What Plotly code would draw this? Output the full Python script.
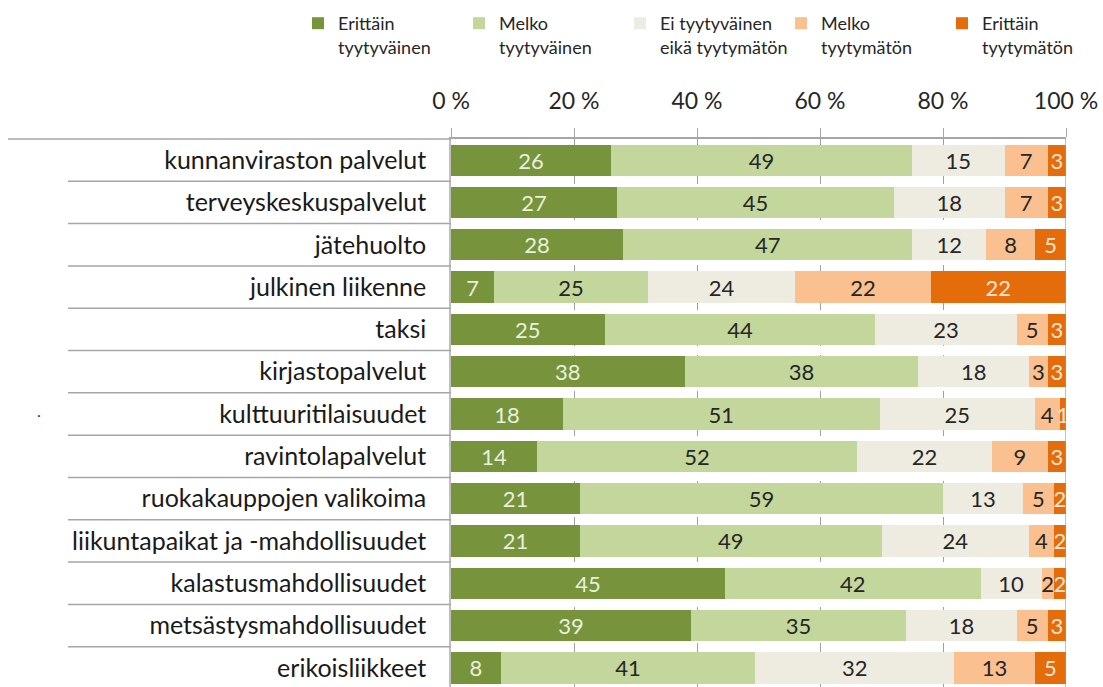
import plotly.graph_objects as go

# Satisfaction with municipal and local services (% of respondents)
categories = [
    "kunnanviraston palvelut",
    "terveyskeskuspalvelut",
    "jätehuolto",
    "julkinen liikenne",
    "taksi",
    "kirjastopalvelut",
    "kulttuuritilaisuudet",
    "ravintolapalvelut",
    "ruokakauppojen valikoima",
    "liikuntapaikat ja -mahdollisuudet",
    "kalastusmahdollisuudet",
    "metsästysmahdollisuudet",
    "erikoisliikkeet",
]

very_satisfied = [26, 27, 28, 7, 25, 38, 18, 14, 21, 21, 45, 39, 8]
fairly_satisfied = [49, 45, 47, 25, 44, 38, 51, 52, 59, 49, 42, 35, 41]
neutral = [15, 18, 12, 24, 23, 18, 25, 22, 13, 24, 10, 18, 32]
fairly_dissatisfied = [7, 7, 8, 22, 5, 3, 4, 9, 5, 4, 2, 5, 13]
very_dissatisfied = [3, 3, 5, 22, 3, 3, 1, 3, 2, 2, 2, 3, 5]

series_names = [
    "Erittäin<br>tyytyväinen",
    "Melko<br>tyytyväinen",
    "Ei tyytyväinen<br>eikä tyytymätön",
    "Melko<br>tyytymätön",
    "Erittäin<br>tyytymätön",
]
series_values = [very_satisfied, fairly_satisfied, neutral,
                 fairly_dissatisfied, very_dissatisfied]
colors = ["#77933C", "#C3D69B", "#EEECE1", "#FAC090", "#E46C0A"]
text_colors = ["#E9F0DC", "#262626", "#262626", "#262626", "#FBE6D4"]

tick_vals = [0, 20, 40, 60, 80, 100]
tick_text = ["0 %", "20 %", "40 %", "60 %", "80 %", "100 %"]

FONT = "Lato, 'Open Sans', sans-serif"

fig = go.Figure()
for name, vals, col, tcol in zip(series_names, series_values, colors, text_colors):
    fig.add_trace(go.Bar(
        y=categories,
        x=vals,
        name=name,
        orientation="h",
        marker=dict(color=col, line=dict(width=0)),
        text=[str(v) for v in vals],
        textposition="inside",
        insidetextanchor="middle",
        textangle=0,
        constraintext="none",
        textfont=dict(family=FONT, size=22, color=tcol),
        hoverinfo="skip",
    ))

# plot area geometry in pixels
L, R, T = 451, 1066, 139
W = R - L
H = 687 - T

shapes = []
# separators between category labels
for i in range(1, len(categories)):
    shapes.append(dict(type="line", xref="paper", yref="y",
                       x0=(68 - L) / W, x1=0, y0=i - 0.5, y1=i - 0.5,
                       line=dict(color="#A6A6A6", width=1.5)))
# top rule across the label column
shapes.append(dict(type="line", xref="paper", yref="paper",
                   x0=(8 - L) / W, x1=0, y0=1, y1=1,
                   line=dict(color="#A6A6A6", width=1.5)))
# right edge at 100 %
shapes.append(dict(type="line", xref="x", yref="paper",
                   x0=100, x1=100, y0=0, y1=1,
                   line=dict(color="#8E9AAF", width=1.2)))

fig.update_layout(
    width=1103, height=687,
    margin=dict(l=L, r=1103 - R, t=T, b=0, pad=0),
    paper_bgcolor="white", plot_bgcolor="white",
    barmode="stack", barnorm="percent", bargap=0.26,
    font=dict(family=FONT, color="#262626"),
    showlegend=True,
    legend=dict(
        orientation="h", traceorder="normal",
        x=(298 - L) / W, xanchor="left",
        y=(687 - 5) / H, yanchor="top",
        entrywidth=116, entrywidthmode="pixels",
        itemwidth=30, valign="top",
        font=dict(family=FONT, size=18, color="#262626"),
        bgcolor="rgba(0,0,0,0)",
    ),
    xaxis=dict(
        side="top", range=[0, 100],
        tickvals=tick_vals, ticktext=tick_text,
        tickfont=dict(family=FONT, size=23, color="#262626"),
        ticks="outside", ticklen=9, tickcolor="#A6A6A6", tickwidth=1,
        ticklabelstandoff=10,
        showline=True, linecolor="#A6A6A6", linewidth=1.5,
        showgrid=True, gridcolor="#A0A0A0", griddash="dash", gridwidth=1,
        zeroline=False, fixedrange=True,
    ),
    yaxis=dict(
        type="category", categoryorder="array", categoryarray=categories,
        range=[len(categories) - 0.5 - 2 / 42.3, -0.5],
        tickfont=dict(family=FONT, size=25, color="#1a1a1a"),
        ticks="", ticklabelstandoff=18,
        showline=True, linecolor="#BFBFBF", linewidth=1.5,
        showgrid=False, zeroline=False, fixedrange=True,
    ),
    shapes=shapes,
    annotations=[dict(text=".", xref="paper", yref="paper",
                      x=(35 - L) / W, y=(687 - 410) / H,
                      showarrow=False, font=dict(size=16, color="#333333"))],
)

fig.write_html("out.html")
